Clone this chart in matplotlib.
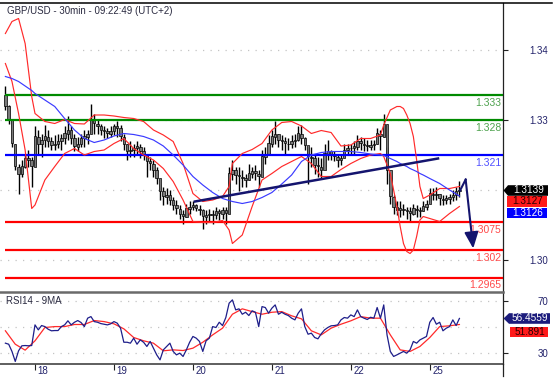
import numpy as np
import matplotlib
matplotlib.use("Agg")
import matplotlib.pyplot as plt
from matplotlib.lines import Line2D
from matplotlib.patches import Polygon
from matplotlib.transforms import IdentityTransform

plt.rcParams['font.family'] = ['Liberation Sans', 'DejaVu Sans']

W, H = 558, 379

# hourly bars, hour 0 = start of the 18th (weekend skipped)
bar_hours = np.arange(-9, 130)
first_open = 1.3330
highs = [1.3347, 1.3310, 1.3280, 1.3233, 1.3193, 1.3200, 1.3213, 1.3220, 1.3207,
         1.3267, 1.3260, 1.3253, 1.3270, 1.3260, 1.3247, 1.3250, 1.3253, 1.3253, 1.3267,
         1.3287, 1.3267, 1.3253, 1.3247, 1.3253, 1.3260, 1.3260, 1.3313, 1.3293, 1.3280,
         1.3273, 1.3267, 1.3263, 1.3267, 1.3273, 1.3277, 1.3270, 1.3253, 1.3233, 1.3237,
         1.3233, 1.3237, 1.3233, 1.3227, 1.3213, 1.3207, 1.3200, 1.3187, 1.3153, 1.3147,
         1.3143, 1.3140, 1.3127, 1.3120, 1.3110, 1.3100, 1.3113, 1.3117, 1.3117, 1.3113,
         1.3110, 1.3103, 1.3100, 1.3103, 1.3100, 1.3107, 1.3103, 1.3107, 1.3107, 1.3187,
         1.3200, 1.3187, 1.3187, 1.3180, 1.3173, 1.3193, 1.3187, 1.3190, 1.3180, 1.3220,
         1.3227, 1.3250, 1.3260, 1.3277, 1.3253, 1.3250, 1.3247, 1.3243, 1.3250, 1.3253,
         1.3267, 1.3270, 1.3247, 1.3227, 1.3227, 1.3213, 1.3207, 1.3203, 1.3233, 1.3240,
         1.3220, 1.3217, 1.3213, 1.3213, 1.3233, 1.3233, 1.3233, 1.3237, 1.3250, 1.3247,
         1.3243, 1.3240, 1.3240, 1.3240, 1.3263, 1.3260, 1.3293, 1.3227, 1.3173, 1.3130,
         1.3117, 1.3117, 1.3113, 1.3107, 1.3107, 1.3113, 1.3110, 1.3107, 1.3117, 1.3120,
         1.3143, 1.3143, 1.3147, 1.3133, 1.3130, 1.3130, 1.3133, 1.3140, 1.3147, 1.3157]
lows = [1.3300, 1.3273, 1.3227, 1.3180, 1.3133, 1.3167, 1.3183, 1.3187, 1.3147,
        1.3193, 1.3213, 1.3207, 1.3227, 1.3227, 1.3220, 1.3220, 1.3223, 1.3220, 1.3233,
        1.3240, 1.3233, 1.3217, 1.3217, 1.3227, 1.3227, 1.3233, 1.3260, 1.3253, 1.3253,
        1.3250, 1.3243, 1.3243, 1.3247, 1.3250, 1.3247, 1.3237, 1.3220, 1.3200, 1.3207,
        1.3207, 1.3210, 1.3203, 1.3200, 1.3167, 1.3180, 1.3167, 1.3153, 1.3120, 1.3110,
        1.3113, 1.3110, 1.3100, 1.3093, 1.3083, 1.3073, 1.3087, 1.3093, 1.3100, 1.3097,
        1.3090, 1.3063, 1.3073, 1.3077, 1.3073, 1.3083, 1.3080, 1.3083, 1.3073, 1.3127,
        1.3160, 1.3153, 1.3137, 1.3147, 1.3147, 1.3160, 1.3163, 1.3160, 1.3147, 1.3180,
        1.3193, 1.3213, 1.3227, 1.3233, 1.3227, 1.3220, 1.3213, 1.3220, 1.3223, 1.3227,
        1.3237, 1.3233, 1.3220, 1.3153, 1.3187, 1.3173, 1.3167, 1.3163, 1.3187, 1.3200,
        1.3200, 1.3197, 1.3187, 1.3190, 1.3207, 1.3210, 1.3213, 1.3213, 1.3220, 1.3220,
        1.3217, 1.3217, 1.3220, 1.3220, 1.3233, 1.3220, 1.3247, 1.3153, 1.3113, 1.3093,
        1.3090, 1.3087, 1.3090, 1.3083, 1.3077, 1.3090, 1.3087, 1.3087, 1.3097, 1.3100,
        1.3117, 1.3120, 1.3120, 1.3110, 1.3110, 1.3113, 1.3113, 1.3117, 1.3120, 1.3127]
closes = [1.3307, 1.3280, 1.3233, 1.3187, 1.3173, 1.3187, 1.3203, 1.3200, 1.3187,
          1.3247, 1.3233, 1.3240, 1.3247, 1.3237, 1.3230, 1.3233, 1.3237, 1.3243, 1.3253,
          1.3260, 1.3243, 1.3227, 1.3233, 1.3243, 1.3247, 1.3253, 1.3280, 1.3273, 1.3267,
          1.3260, 1.3257, 1.3253, 1.3257, 1.3267, 1.3263, 1.3247, 1.3233, 1.3217, 1.3220,
          1.3223, 1.3227, 1.3217, 1.3210, 1.3197, 1.3193, 1.3180, 1.3163, 1.3137, 1.3127,
          1.3130, 1.3120, 1.3110, 1.3103, 1.3093, 1.3087, 1.3103, 1.3107, 1.3110, 1.3103,
          1.3100, 1.3087, 1.3090, 1.3093, 1.3090, 1.3097, 1.3093, 1.3100, 1.3093, 1.3173,
          1.3180, 1.3170, 1.3167, 1.3163, 1.3160, 1.3173, 1.3177, 1.3173, 1.3167, 1.3207,
          1.3213, 1.3233, 1.3247, 1.3253, 1.3240, 1.3237, 1.3233, 1.3233, 1.3237, 1.3240,
          1.3253, 1.3243, 1.3230, 1.3207, 1.3203, 1.3190, 1.3187, 1.3180, 1.3213, 1.3217,
          1.3210, 1.3207, 1.3200, 1.3203, 1.3220, 1.3223, 1.3223, 1.3227, 1.3237, 1.3233,
          1.3230, 1.3227, 1.3230, 1.3233, 1.3253, 1.3247, 1.3273, 1.3180, 1.3127, 1.3107,
          1.3100, 1.3103, 1.3100, 1.3097, 1.3093, 1.3103, 1.3100, 1.3097, 1.3107, 1.3113,
          1.3133, 1.3130, 1.3133, 1.3123, 1.3120, 1.3123, 1.3127, 1.3130, 1.3137, 1.3139]

# Bollinger bands and moving average
ind_hours = [-9, -7, -5, -3, -1, 0, 3, 6, 9, 12, 15, 18, 21, 24, 27, 30, 33, 36, 39, 42,
             45, 48, 51, 54, 57, 59, 60, 63, 66, 69, 72, 75, 78, 81, 84, 87, 90, 93, 96,
             99, 102, 105, 106, 108, 110, 111, 112, 113, 114, 115, 116, 117, 118, 120,
             123, 126, 129]
bb_upper = [1.3453, 1.3477, 1.3483, 1.3433, 1.3327, 1.3293, 1.3277, 1.3273, 1.3281, 1.3273,
            1.3272, 1.3290, 1.3290, 1.3288, 1.3285, 1.3283, 1.3277, 1.3260, 1.3250, 1.3237,
            1.3193, 1.3133, 1.3117, 1.3120, 1.3127, 1.3147, 1.3193, 1.3213, 1.3221, 1.3233,
            1.3260, 1.3275, 1.3277, 1.3268, 1.3253, 1.3259, 1.3255, 1.3228, 1.3230, 1.3243,
            1.3243, 1.3250, 1.3270, 1.3300, 1.3307, 1.3307, 1.3303, 1.3290, 1.3273, 1.3247,
            1.3200, 1.3147, 1.3123, 1.3130, 1.3143, 1.3143, 1.3147]
bb_lower = [1.3393, 1.3357, 1.3293, 1.3220, 1.3103, 1.3110, 1.3160, 1.3187, 1.3213, 1.3223,
            1.3210, 1.3217, 1.3220, 1.3233, 1.3243, 1.3223, 1.3210, 1.3200, 1.3183, 1.3157,
            1.3120, 1.3077, 1.3075, 1.3075, 1.3079, 1.3060, 1.3033, 1.3050, 1.3107, 1.3160,
            1.3173, 1.3187, 1.3197, 1.3207, 1.3193, 1.3167, 1.3167, 1.3181, 1.3193, 1.3203,
            1.3210, 1.3213, 1.3207, 1.3173, 1.3107, 1.3067, 1.3033, 1.3017, 1.3013, 1.3020,
            1.3047, 1.3080, 1.3087, 1.3083, 1.3077, 1.3093, 1.3107]
ma_line = [1.3367, 1.3363, 1.3357, 1.3348, 1.3339, 1.3333, 1.3320, 1.3307, 1.3283, 1.3260,
           1.3243, 1.3235, 1.3240, 1.3248, 1.3253, 1.3251, 1.3247, 1.3240, 1.3228, 1.3210,
           1.3190, 1.3167, 1.3150, 1.3135, 1.3123, 1.3119, 1.3117, 1.3113, 1.3117, 1.3125,
           1.3135, 1.3152, 1.3170, 1.3197, 1.3210, 1.3215, 1.3217, 1.3217, 1.3217, 1.3215,
           1.3212, 1.3210, 1.3209, 1.3203, 1.3197, 1.3193, 1.3190, 1.3187, 1.3183, 1.3180,
           1.3177, 1.3173, 1.3170, 1.3163, 1.3153, 1.3140, 1.3128]

# RSI(14), one value per hour, and its 9MA every 3 hours
rsi_values = [37.7, 36.9, 31.4, 23.8, 31.9, 35.7, 35.9, 35.7, 35.9,
              51.6, 47.8, 51.1, 50.3, 48.3, 47.1, 47.3, 47.3, 50.3, 51.6,
              54.7, 51.6, 53.6, 54.9, 53.4, 50.3, 56.7, 57.9, 54.1, 53.6,
              52.6, 52.1, 51.6, 52.4, 54.1, 52.9, 49.1, 38.4, 38.4, 37.7,
              41.5, 36.9, 40.2, 38.4, 35.2, 39.0, 33.9, 28.8, 25.0, 32.6,
              35.2, 37.7, 31.4, 28.8, 30.1, 27.6, 32.6, 38.4, 42.8, 41.5,
              39.0, 31.4, 39.5, 41.5, 50.3, 49.6, 53.6, 51.1, 57.2, 68.1,
              70.6, 63.0, 63.8, 59.7, 61.2, 58.7, 62.3, 61.2, 50.3, 65.5,
              64.8, 60.5, 64.3, 66.8, 59.7, 61.2, 59.7, 58.7, 56.7, 55.4,
              60.5, 63.8, 50.3, 44.5, 45.3, 42.0, 41.0, 44.8, 47.8, 49.6,
              50.9, 51.1, 51.6, 55.4, 57.2, 56.7, 59.2, 57.9, 63.0, 57.9,
              56.7, 55.7, 57.4, 56.7, 64.8, 56.7, 66.8, 44.0, 31.4, 27.6,
              28.8, 30.1, 31.4, 30.1, 32.6, 39.0, 37.7, 40.2, 41.5, 42.8,
              53.6, 57.2, 52.1, 53.6, 47.1, 49.1, 50.3, 55.4, 51.1, 56.5]
rsi_ma_hours = np.arange(-9, 130, 3)
rsi_ma = [47.1, 36.9, 32.4, 39.5, 49.6, 50.3, 50.3, 51.9, 51.9, 54.9, 54.1, 52.4,
          48.6, 42.0, 39.5, 37.7, 31.9, 32.6, 32.1, 33.9, 38.4, 44.0, 49.1, 59.7,
          63.8, 61.7, 59.7, 61.2, 61.7, 58.5, 56.2, 47.1, 44.0, 49.1, 52.1, 54.7,
          57.9, 56.7, 56.7, 44.0, 32.6, 31.4, 35.2, 42.0, 50.3, 50.9, 51.9]

# support / resistance levels
level_values = [1.333, 1.328, 1.321, 1.3075, 1.302, 1.2965]
level_texts = ['1.333', '1.328', '1.321', '1.3075', '1.302', '1.2965']
level_colors = ['#008a00', '#008a00', '#0000ff', '#ff0000', '#ff0000', '#ff0000']
level_text_colors = ['#4ea24e', '#4ea24e', '#5050ff', '#ff4a4a', '#ff4a4a', '#ff4a4a']

trend_hours = [48.6, 122.5]
trend_prices = [1.3117, 1.3203]
forecast_hours = [129.2, 130.9, 133.2]
forecast_prices = [1.3139, 1.3161, 1.3023]

day_ticks = [0, 24, 48, 72, 96, 120]
day_labels = ['18', '19', '20', '21', '22', '25']
price_ticks = [1.3419, 1.3279, 1.3000]
price_tick_labels = ['1.34', '1.33', '1.30']
rsi_ticks = [30, 70]
rsi_grid = [30, 50, 70]

last_price = 1.3139
last_band = 1.3127
last_ma = 1.3126
last_rsi = 56.4559
last_rsi_ma = 51.891

TXT = '#23236b'
DOTS = (0, (1, 5))


def value_box(fig, ax, value, shift, text, face, fg, x0, x1, tip=None):
    # label box on the right axis, in pixel coordinates
    yc = ax.transData.transform((0, value))[1] - shift
    hh = 5.3
    pts = [(x0, yc - hh), (x1, yc - hh), (x1, yc + hh), (x0, yc + hh)]
    if tip is not None:
        pts = [(tip, yc)] + pts
    fig.add_artist(Polygon(pts, closed=True, facecolor=face, edgecolor='none',
                           transform=IdentityTransform()))
    fig.text((x0 + x1) / 2 + 0.5, yc, text, transform=IdentityTransform(),
             ha='center', va='center', fontsize=7.2, color=fg)


def main():
    fig = plt.figure(figsize=(W / 100, H / 100), dpi=100)
    ax = fig.add_axes([0, 1 - 292 / H, 503 / W, 289 / H])
    ax_rsi = fig.add_axes([0, 1 - 364 / H, 503 / W, 72 / H])

    xlim = (-10.64, 142.25)
    for a in (ax, ax_rsi):
        a.set_xlim(*xlim)
        for s in ('left', 'top', 'bottom'):
            a.spines[s].set_visible(False)
        a.spines['right'].set_color('#222222')
        a.spines['right'].set_linewidth(0.9)
        a.yaxis.tick_right()
        a.tick_params(axis='y', length=3.5, width=0.8, color='#222222',
                      labelsize=7, labelcolor=TXT, pad=29)
    ax.set_ylim(1.2936, 1.3514)
    ax_rsi.set_ylim(21.86, 76.6)

    # price panel
    ax.set_xticks([])
    ax.set_yticks(price_ticks, price_tick_labels)
    for g in price_ticks + [last_price]:
        ax.axhline(g, color='#c4c4c4', lw=0.9, ls=DOTS, zorder=0)

    opens = np.r_[first_open, closes[:-1]]
    c = np.array(closes)
    ax.vlines(bar_hours, lows, highs, color='black', lw=1.0, zorder=2)
    ax.bar(bar_hours, c - opens, bottom=opens, width=0.75, color='#7a7a7a',
           edgecolor='black', linewidth=0.5, zorder=2)

    ax.hlines(level_values, -9, xlim[1], colors=level_colors, lw=1.6, zorder=3)
    for v, t, col in zip(level_values, level_texts, level_text_colors):
        ax.annotate(t, xy=(1, v), xycoords=('axes fraction', 'data'),
                    xytext=(-1.2, -2), textcoords='offset points',
                    ha='right', va='top', fontsize=7.5, color=col)

    ax.plot(ind_hours, bb_upper, color='#ff2a2a', lw=0.85, zorder=4)
    ax.plot(ind_hours, bb_lower, color='#ff2a2a', lw=0.85, zorder=4)
    ax.plot(ind_hours, ma_line, color='#3a3aff', lw=0.85, zorder=4)

    ax.plot(trend_hours, trend_prices, color='#14146e', lw=1.8, zorder=5)
    ax.plot(forecast_hours[:2], forecast_prices[:2], color='#14146e', lw=1.5, zorder=5)
    ax.annotate('', xy=(forecast_hours[2], forecast_prices[2]),
                xytext=(forecast_hours[1], forecast_prices[1]),
                arrowprops=dict(arrowstyle='-|>,head_length=0.7,head_width=0.3',
                                mutation_scale=14, color='#14146e', lw=1.5,
                                shrinkA=0, shrinkB=0), zorder=5)

    # RSI panel
    ax_rsi.spines['top'].set_visible(True)
    ax_rsi.spines['top'].set_color('#6a6a6a')
    ax_rsi.spines['top'].set_linewidth(1.8)
    ax_rsi.spines['bottom'].set_visible(True)
    ax_rsi.spines['bottom'].set_color('#333333')
    ax_rsi.spines['bottom'].set_linewidth(1.1)
    ax_rsi.set_yticks(rsi_ticks)
    for g in rsi_grid:
        ax_rsi.axhline(g, color='#c4c4c4', lw=0.9, ls=DOTS, zorder=0)
    ax_rsi.plot(rsi_ma_hours, rsi_ma, color='#ff2a2a', lw=0.9, zorder=3)
    ax_rsi.plot(bar_hours, rsi_values, color='#1e1e8a', lw=0.9, zorder=4)

    ax_rsi.set_xticks(day_ticks, [''] * len(day_ticks))
    ax_rsi.tick_params(axis='x', direction='out', length=4.3, width=0.8, color='#222222')
    for d, lab in zip(day_ticks, day_labels):
        ax_rsi.annotate(lab, xy=(d, 0), xycoords=('data', 'axes fraction'),
                        xytext=(1.8, -1.2), textcoords='offset points',
                        ha='left', va='top', fontsize=7, color=TXT)

    # right-hand labels end at the same x
    for a in (ax, ax_rsi):
        for lab in a.get_yticklabels():
            lab.set_horizontalalignment('right')

    # frame pieces outside the axes
    fig.add_artist(Line2D([0, 552 / W], [1 - 2.5 / H] * 2, color='black', lw=1.1,
                          transform=fig.transFigure))
    fig.add_artist(Line2D([503 / W] * 2, [1 - 364 / H, 1 - 376 / H], color='#222222',
                          lw=0.9, transform=fig.transFigure))

    fig.text(7 / W, 1 - 6 / H, 'GBP/USD - 30min - 09:22:49 (UTC+2)', ha='left', va='top',
             fontsize=7, color='#2a2a40')
    fig.text(6 / W, 1 - 296 / H, 'RSI14 - 9MA', ha='left', va='top',
             fontsize=7, color='#2a2a40')

    # current value boxes
    value_box(fig, ax, last_price, 0, f'{last_price:.4f}', '#000000', 'white', 508, 548, tip=503.5)
    value_box(fig, ax, last_price, 11, f'{last_band:.4f}', '#ff1a1a', '#2a0000', 506.5, 547)
    value_box(fig, ax, last_price, 22.5, f'{last_ma:.4f}', '#0000ff', 'white', 506.5, 547)
    value_box(fig, ax_rsi, last_rsi, 0, f'{last_rsi:.4f}', '#1c1c7c', 'white', 509, 550, tip=503.5)
    value_box(fig, ax_rsi, last_rsi, 13.4, f'{last_rsi_ma:.3f}', '#ff1a1a', '#2a0000', 510, 548)

    fig.savefig('out.png', dpi=100)


if __name__ == '__main__':
    main()
